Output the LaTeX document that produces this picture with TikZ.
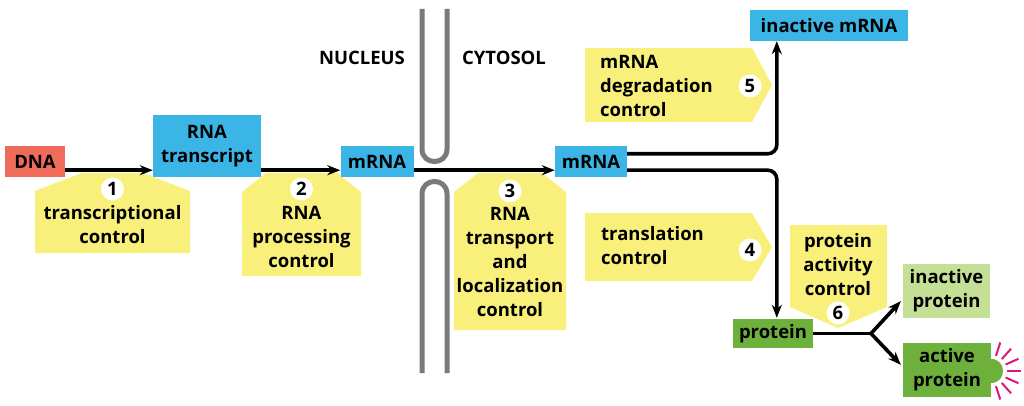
\documentclass[tikz,border=0pt]{standalone}
\usepackage{fontspec}
\setmainfont{Open Sans}
\usetikzlibrary{arrows.meta}
\definecolor{dnared}{RGB}{239,107,90}
\definecolor{rnablue}{RGB}{59,180,230}
\definecolor{ctrlyellow}{RGB}{249,240,124}
\definecolor{protgreen}{RGB}{110,176,60}
\definecolor{paleprot}{RGB}{196,224,150}
\definecolor{membgrey}{RGB}{122,122,122}
\definecolor{raypink}{RGB}{222,22,122}
\begin{document}
\begin{tikzpicture}[x=1pt,y=-1pt,
    font=\bfseries\fontsize{18.5}{24}\selectfont,
    box/.style={inner sep=0pt, align=center},
    numcirc/.style={circle, fill=white, inner sep=0pt, minimum size=23pt},
    callout/.style={fill=ctrlyellow},
    arr/.style={-{Stealth[length=13pt,width=10pt]}, line width=3.6pt},
    membrane/.style={membgrey, line width=5pt}]
    \useasboundingbox (0,0) rectangle (1024,406);
    % membrane
    \draw[membrane] (422,9) -- (422,149) .. controls (422,165.7) and (447,165.7) .. (447,149) -- (447,9);
    \draw[membrane] (422,373) -- (422,194) .. controls (422,177.3) and (447,177.3) .. (447,194) -- (447,373);
    \node (nuc) at (362,58) {NUCLEUS};
    \node (cyt) at (504,58) {CYTOSOL};
    % yellow control boxes
    \fill[callout] (35,253) -- (35,191) -- (82,173) -- (143,173) -- (190,191) -- (190,253) -- cycle;
    \fill[callout] (242,276) -- (242,192) -- (266,173) -- (337,173) -- (361,192) -- (361,276) -- cycle;
    \fill[callout] (454,330) -- (454,192) -- (478,173) -- (542,173) -- (566,192) -- (566,330) -- cycle;
    \fill[callout] (585,48) -- (752,48) -- (772,85) -- (752,122) -- (585,122) -- cycle;
    \fill[callout] (585,213) -- (752,213) -- (772,247) -- (752,281) -- (585,281) -- cycle;
    \fill[callout] (790,225) -- (887,225) -- (887,307) -- (838,328) -- (790,307) -- cycle;
    \node[numcirc] (n1) at (112.5,189) {1};
    \node[numcirc] (n2) at (301.5,189) {2};
    \node[numcirc] (n3) at (510,191) {3};
    \node[numcirc] (n4) at (750,250) {4};
    \node[numcirc] (n5) at (750,86) {5};
    \node[numcirc] (n6) at (838,313) {6};
    \node[box] (c1) at (112.5,225) {transcriptional\\control};
    \node[box] (c2) at (301.5,237) {RNA\\processing\\control};
    \node[box] (c3) at (510,261.5) {RNA\\transport\\and\\localization\\control};
    \node[box, align=left, anchor=west] (c5) at (600,86) {mRNA\\degradation\\control};
    \node[box, align=left, anchor=west] (c4) at (601,245.5) {translation\\control};
    \node[box] (c6) at (838,264.5) {protein\\activity\\control};
    % molecules
    \node[box, fill=dnared, minimum width=60pt, minimum height=31pt] (dna) at (35,161.5) {DNA};
    \node[box, fill=rnablue, minimum width=108pt, minimum height=62pt] (rna) at (207,146) {RNA\\transcript};
    \node[box, fill=rnablue, minimum width=73pt, minimum height=31pt] (mrna1) at (377,161.5) {mRNA};
    \node[box, fill=rnablue, minimum width=72pt, minimum height=31pt] (mrna2) at (591,161.5) {mRNA};
    \node[box, fill=rnablue, minimum width=158pt, minimum height=31pt] (inmrna) at (829,25.5) {inactive mRNA};
    \node[box, fill=protgreen, minimum width=80pt, minimum height=29pt] (prot) at (773,333.5) {protein};
    \node[box, fill=paleprot, minimum width=87pt, minimum height=54pt] (inprot) at (946.5,291) {inactive\\protein};
    \node[box, fill=protgreen, minimum width=88pt, minimum height=54pt] (actprot) at (947,370) {active\\protein};
    \coordinate (bump) at (991,371);
    \fill[protgreen] (991,359) .. controls (1007,359) and (1007,383) .. (991,383) -- cycle;
    \foreach \a in {-72,-48,-24,0,24,48,72}
        \draw[raypink, line width=2pt] ([shift={(\a:16)}]bump) -- ([shift={(\a:30)}]bump);
    % connectors
    \draw[arr] ([yshift=7pt]dna.south east) -- ([yshift=7pt]rna.south west);
    \draw[arr] ([yshift=7pt]rna.south east) -- ([yshift=7pt]mrna1.south west);
    \draw[arr] ([yshift=7pt]mrna1.south east) -- ([yshift=7pt]mrna2.south west);
    \draw[arr, rounded corners=9pt] ([yshift=-8pt]mrna2.north east) -| ([xshift=27pt]inmrna.south west);
    \draw[arr, rounded corners=9pt] ([yshift=7pt]mrna2.south east) -| ([xshift=44pt,yshift=1pt]prot.north west);
    \coordinate (fork) at (871,333.5);
    \draw[line width=3.6pt] (prot.east) -- (fork);
    \draw[arr] (fork) -- ([xshift=-2pt,yshift=17pt]inprot.south west);
    \draw[arr] (fork) -- ([xshift=-2pt,yshift=-22pt]actprot.north west);
\end{tikzpicture}
\end{document}
